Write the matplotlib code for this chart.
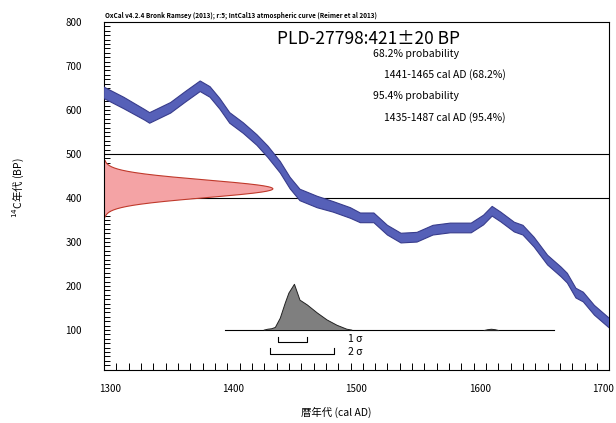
import numpy as np
import matplotlib
matplotlib.use("Agg")
from matplotlib import pyplot as plt
from matplotlib.ticker import MultipleLocator
from matplotlib.transforms import ScaledTranslation

plt.rcParams['font.family'] = ['Noto Sans CJK JP', 'DejaVu Sans']

# IntCal13 curve (cal AD, 14C BP, 1 sigma)
cal_years = [1300, 1316, 1333, 1337, 1354, 1366, 1378, 1386, 1394, 1402,
             1413, 1424, 1433, 1443, 1451, 1459, 1473, 1486, 1500, 1508,
             1519, 1530, 1541, 1554, 1567, 1581, 1598, 1608, 1615, 1622,
             1633, 1640, 1649, 1660, 1671, 1676, 1683, 1689, 1698, 1710]
cal_bp = [639, 616, 589, 582, 605, 630, 654, 641, 614, 582,
          559, 532, 505, 470, 434, 407, 391, 380, 366, 355,
          355, 327, 309, 311, 327, 332, 332, 350, 370, 357,
          334, 327, 300, 259, 232, 218, 184, 175, 145, 116]
cal_sigma = [13, 13, 12, 12, 12, 12, 12, 12, 12, 12,
             12, 12, 13, 13, 13, 13, 13, 12, 12, 11,
             11, 11, 11, 11, 11, 11, 11, 11, 11, 11,
             11, 11, 11, 11, 11, 11, 11, 11, 11, 11]

# measurement
bp_mean = 421
bp_sigma = 20
bp_peak_width = 137  # years at the peak of the red curve

# calibrated probability (height above baseline)
prob_years = [1430, 1433, 1436, 1439, 1443, 1447, 1450, 1454.5, 1459, 1465,
              1473, 1481, 1489, 1497, 1501]
prob_height = [0, 2, 3, 6, 27, 61, 84, 104, 68, 57,
               39, 23, 11, 2, 0]
blip_years = [1608, 1611, 1614, 1617, 1620]
blip_height = [0, 2, 3, 2, 0]
baseline = 100

sig1 = (1441, 1465)
sig2 = (1435, 1487)

fig = plt.figure(figsize=(6.16, 4.23), dpi=100)
ax = fig.add_axes([0.169, 0.125, 0.820, 0.823])

# calibration band
cy = np.array(cal_years)
cb = np.array(cal_bp)
cs = np.array(cal_sigma)
ax.fill_between(cy, cb - cs, cb + cs, facecolor='#5660b8', edgecolor='none', zorder=3)
ax.plot(cy, cb + cs, color='#383c8c', lw=0.8, zorder=4)
ax.plot(cy, cb - cs, color='#383c8c', lw=0.8, zorder=4)

# radiocarbon measurement
bp = np.linspace(bp_mean - 3.2 * bp_sigma, bp_mean + 3.2 * bp_sigma, 200)
w = bp_peak_width * np.exp(-0.5 * ((bp - bp_mean) / bp_sigma) ** 2)
ax.fill_betweenx(bp, 1300, 1300 + w, facecolor='#f4a3a5', edgecolor='none', zorder=2)
ax.plot(1300 + w, bp, color='#c0392b', lw=0.8, zorder=2)

ax.axhline(500, color='black', lw=0.8, zorder=1)
ax.axhline(400, color='black', lw=0.8, zorder=1)

# calibrated distribution
ax.plot([1398, 1665], [baseline, baseline], color='black', lw=0.8, zorder=5)
py = np.array(prob_years)
ph = np.array(prob_height)
ax.fill_between(py, baseline, baseline + ph, facecolor='#7f7f7f', edgecolor='none', zorder=5)
ax.plot(py, baseline + ph, color='#222222', lw=0.7, zorder=6)
ax.fill_between(blip_years, baseline, baseline + np.array(blip_height),
                facecolor='#555555', edgecolor='#222222', lw=0.7, zorder=6)

# sigma ranges
for (a, b), yl, yt, lab in [(sig1, 73, 84, '1 σ'), (sig2, 45, 59, '2 σ')]:
    ax.plot([a, a, b, b], [yt, yl, yl, yt], color='black', lw=0.8)
    ax.text(1498, yl + 6, lab, fontsize=7.5, va='center', ha='left')

ax.set_xlim(1300, 1710)
ax.set_ylim(9, 800)
ax.set_xticks([1300, 1400, 1500, 1600, 1700])
ax.set_yticks(range(100, 801, 100))
ax.xaxis.set_minor_locator(MultipleLocator(10))
ax.yaxis.set_minor_locator(MultipleLocator(10))
ax.tick_params(axis='x', which='both', direction='in', top=False, length=5,
               labelsize=7, pad=10, width=0.7)
ax.tick_params(axis='y', which='both', direction='in', right=False, length=4,
               labelsize=7, pad=16, width=0.7)
for s in ax.spines.values():
    s.set_linewidth(0.8)
shift = ScaledTranslation(6 / 100, 0, fig.dpi_scale_trans)
for lbl in ax.get_xticklabels():
    lbl.set_transform(lbl.get_transform() + shift)

fig.text(0.170, 0.965,
         'OxCal v4.2.4 Bronk Ramsey (2013); r:5; IntCal13 atmospheric curve (Reimer et al 2013)',
         fontsize=4.6, fontweight='bold', ha='left', va='center')
ax.text(1440, 762, 'PLD-27798:421±20 BP', fontsize=12.5, ha='left', va='center')
ax.text(1518, 728, '68.2% probability', fontsize=7.5, ha='left', va='center')
ax.text(1527, 680, '1441-1465 cal AD (68.2%)', fontsize=7.5, ha='left', va='center')
ax.text(1518, 632, '95.4% probability', fontsize=7.5, ha='left', va='center')
ax.text(1527, 584, '1435-1487 cal AD (95.4%)', fontsize=7.5, ha='left', va='center')

fig.text(18 / 616, 1 - 188 / 423, '$^{14}$C年代 (BP)', rotation=90,
         fontsize=7.5, ha='center', va='center')
fig.text(336 / 616, 1 - 412 / 423, '暦年代 (cal AD)', fontsize=7.5,
         ha='center', va='center')

fig.savefig('out.png', dpi=100)
